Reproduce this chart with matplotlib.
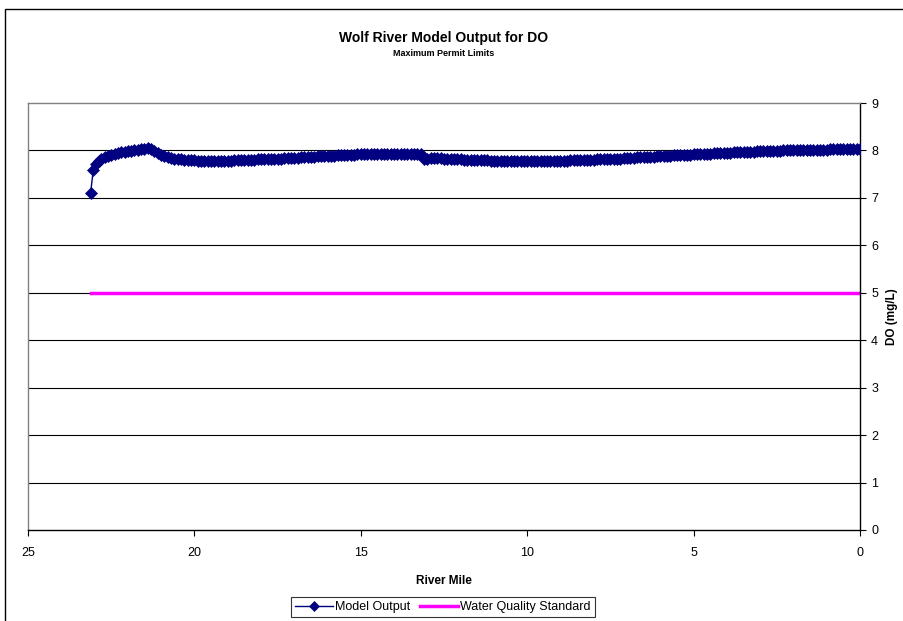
import matplotlib
matplotlib.use("Agg")
import matplotlib.pyplot as plt
from matplotlib.patches import Rectangle

plt.rcParams['font.family'] = ['Liberation Sans', 'DejaVu Sans']

# river mile / dissolved oxygen (one row per mile)
river_mile = [23.12, 23.04, 22.96, 22.88,
              22.8, 22.7, 22.6, 22.5, 22.4, 22.3, 22.2, 22.1, 22.0, 21.9,
              21.8, 21.7, 21.6, 21.5, 21.4, 21.3, 21.2, 21.1, 21.0, 20.9,
              20.8, 20.7, 20.6, 20.5, 20.4, 20.3, 20.2, 20.1, 20.0, 19.9,
              19.8, 19.7, 19.6, 19.5, 19.4, 19.3, 19.2, 19.1, 19.0, 18.9,
              18.8, 18.7, 18.6, 18.5, 18.4, 18.3, 18.2, 18.1, 18.0, 17.9,
              17.8, 17.7, 17.6, 17.5, 17.4, 17.3, 17.2, 17.1, 17.0, 16.9,
              16.8, 16.7, 16.6, 16.5, 16.4, 16.3, 16.2, 16.1, 16.0, 15.9,
              15.8, 15.7, 15.6, 15.5, 15.4, 15.3, 15.2, 15.1, 15.0, 14.9,
              14.8, 14.7, 14.6, 14.5, 14.4, 14.3, 14.2, 14.1, 14.0, 13.9,
              13.8, 13.7, 13.6, 13.5, 13.4, 13.3, 13.2, 13.1, 13.0, 12.9,
              12.8, 12.7, 12.6, 12.5, 12.4, 12.3, 12.2, 12.1, 12.0, 11.9,
              11.8, 11.7, 11.6, 11.5, 11.4, 11.3, 11.2, 11.1, 11.0, 10.9,
              10.8, 10.7, 10.6, 10.5, 10.4, 10.3, 10.2, 10.1, 10.0, 9.9,
              9.8, 9.7, 9.6, 9.5, 9.4, 9.3, 9.2, 9.1, 9.0, 8.9,
              8.8, 8.7, 8.6, 8.5, 8.4, 8.3, 8.2, 8.1, 8.0, 7.9,
              7.8, 7.7, 7.6, 7.5, 7.4, 7.3, 7.2, 7.1, 7.0, 6.9,
              6.8, 6.7, 6.6, 6.5, 6.4, 6.3, 6.2, 6.1, 6.0, 5.9,
              5.8, 5.7, 5.6, 5.5, 5.4, 5.3, 5.2, 5.1, 5.0, 4.9,
              4.8, 4.7, 4.6, 4.5, 4.4, 4.3, 4.2, 4.1, 4.0, 3.9,
              3.8, 3.7, 3.6, 3.5, 3.4, 3.3, 3.2, 3.1, 3.0, 2.9,
              2.8, 2.7, 2.6, 2.5, 2.4, 2.3, 2.2, 2.1, 2.0, 1.9,
              1.8, 1.7, 1.6, 1.5, 1.4, 1.3, 1.2, 1.1, 1.0, 0.9,
              0.8, 0.7, 0.6, 0.5, 0.4, 0.3, 0.2, 0.1, 0.0]
do_model = [7.10, 7.58, 7.72, 7.78,
            7.83, 7.86, 7.89, 7.91, 7.93, 7.95, 7.96, 7.97, 7.98, 7.99,
            8.00, 8.01, 8.02, 8.03, 8.05, 8.02, 7.98, 7.94, 7.91, 7.88,
            7.86, 7.84, 7.83, 7.82, 7.81, 7.80, 7.80, 7.79, 7.79, 7.78,
            7.78, 7.78, 7.78, 7.78, 7.78, 7.78, 7.78, 7.78, 7.78, 7.78,
            7.79, 7.79, 7.79, 7.80, 7.80, 7.80, 7.80, 7.81, 7.81, 7.81,
            7.82, 7.82, 7.82, 7.83, 7.83, 7.84, 7.84, 7.85, 7.85, 7.85,
            7.86, 7.86, 7.86, 7.87, 7.87, 7.88, 7.88, 7.88, 7.89, 7.89,
            7.89, 7.90, 7.90, 7.90, 7.91, 7.91, 7.91, 7.92, 7.92, 7.92,
            7.92, 7.92, 7.92, 7.92, 7.92, 7.93, 7.93, 7.93, 7.93, 7.93,
            7.93, 7.93, 7.93, 7.93, 7.93, 7.93, 7.93, 7.81, 7.83, 7.84,
            7.84, 7.84, 7.84, 7.83, 7.83, 7.82, 7.82, 7.81, 7.81, 7.80,
            7.80, 7.80, 7.80, 7.79, 7.79, 7.79, 7.79, 7.78, 7.78, 7.78,
            7.78, 7.78, 7.78, 7.78, 7.78, 7.77, 7.77, 7.77, 7.77, 7.77,
            7.77, 7.77, 7.77, 7.77, 7.77, 7.78, 7.78, 7.78, 7.78, 7.78,
            7.78, 7.79, 7.79, 7.79, 7.79, 7.80, 7.80, 7.80, 7.80, 7.81,
            7.81, 7.82, 7.82, 7.82, 7.83, 7.83, 7.83, 7.84, 7.84, 7.85,
            7.85, 7.86, 7.86, 7.86, 7.87, 7.87, 7.87, 7.88, 7.88, 7.89,
            7.89, 7.89, 7.90, 7.90, 7.90, 7.91, 7.91, 7.91, 7.92, 7.92,
            7.92, 7.93, 7.93, 7.93, 7.94, 7.94, 7.94, 7.95, 7.95, 7.95,
            7.96, 7.96, 7.96, 7.96, 7.97, 7.97, 7.97, 7.98, 7.98, 7.98,
            7.98, 7.99, 7.99, 7.99, 7.99, 8.00, 8.00, 8.00, 8.00, 8.00,
            8.00, 8.01, 8.01, 8.01, 8.01, 8.01, 8.01, 8.01, 8.01, 8.02,
            8.02, 8.02, 8.02, 8.02, 8.02, 8.02, 8.02, 8.02, 8.02]

wqs_mile = [23.12, 0.0]
wqs_value = [5, 5]

x_ticks = [25, 20, 15, 10, 5, 0]
y_ticks = [0, 1, 2, 3, 4, 5, 6, 7, 8, 9]

fig = plt.figure(figsize=(9.04, 6.21), dpi=100)
ax = fig.add_axes([28/904, 91/621, 832/904, 427/621])

# outer chart border (Excel style)
fig.patches.append(Rectangle((5/904, -0.05), 1.0, (621-9)/621 + 0.05,
                             transform=fig.transFigure, fill=False,
                             edgecolor='black', linewidth=1.0))

for y in y_ticks[1:-1]:
    ax.axhline(y, color='black', linewidth=0.8, zorder=1)

ax.plot(river_mile, do_model, color='#000080', marker='D', markersize=6.5,
        markeredgewidth=0.5, linewidth=1, label='Model Output', zorder=3)
ax.plot(wqs_mile, wqs_value, color='#FF00FF', linewidth=2.5,
        label='Water Quality Standard', zorder=2)

ax.set_xlim(25, 0)
ax.set_ylim(0, 9)
ax.set_xticks(x_ticks)
ax.set_yticks(y_ticks)
ax.yaxis.tick_right()
ax.yaxis.set_label_position('right')
ax.tick_params(axis='both', labelsize=9, length=4, width=0.8, color='black')
ax.tick_params(axis='x', pad=8)
ax.tick_params(axis='y', pad=4)

for side in ['top', 'left']:
    ax.spines[side].set_color('#808080')
    ax.spines[side].set_linewidth(1)
for side in ['bottom', 'right']:
    ax.spines[side].set_color('black')
    ax.spines[side].set_linewidth(1)

ax.set_xlabel('River Mile', fontsize=8.5, fontweight='bold', labelpad=12)
ax.set_ylabel('DO (mg/L)', fontsize=8.5, fontweight='bold', labelpad=6)

fig.text(444/904, 1 - 38/621, 'Wolf River Model Output for DO', ha='center',
         va='center', fontsize=10, fontweight='bold')
fig.text(444/904, 1 - 54/621, 'Maximum Permit Limits', ha='center',
         va='center', fontsize=6.5, fontweight='bold')

leg = fig.legend(loc='center', bbox_to_anchor=(443/904, 1 - 607/621), ncol=2,
                 fontsize=9, frameon=True, fancybox=False, edgecolor='black',
                 handlelength=3.0, handletextpad=0.2, columnspacing=0.8,
                 borderpad=0.3, borderaxespad=0)
leg.get_frame().set_linewidth(0.8)
for h in leg.legend_handles:
    if h.get_marker() == 'D':
        h.set_markersize(5)

fig.savefig('out.png', dpi=100)
